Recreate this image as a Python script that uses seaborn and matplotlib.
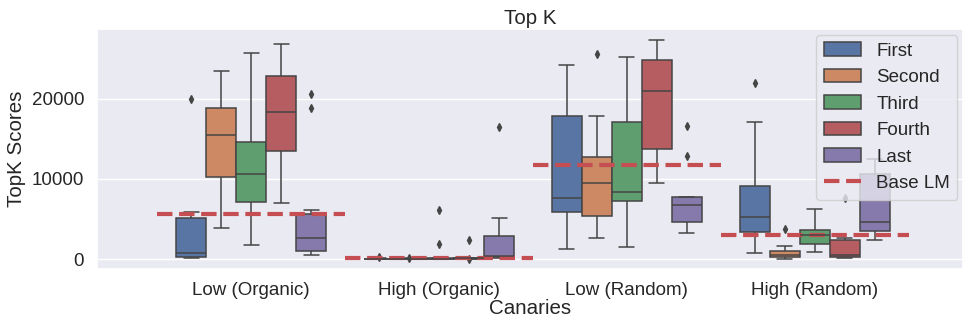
import matplotlib
matplotlib.use("Agg")
import matplotlib.pyplot as plt
import seaborn as sns
import pandas as pd

categories = ["Low (Organic)", "High (Organic)", "Low (Random)", "High (Random)"]
positions = ["First", "Second", "Third", "Fourth", "Last"]

# per category: one list of TopK scores per position (First..Last)
low_organic = [
    [75, 150, 200, 500, 750, 3000, 5100, 5900, 20000],
    [3900, 7000, 10200, 13000, 15500, 17000, 18900, 21000, 23500],
    [1700, 4000, 7100, 9000, 10650, 12500, 14550, 20000, 25700],
    [7050, 10000, 13480, 16000, 18380, 21000, 22850, 25000, 26770],
    [535, 700, 850, 1000, 1500, 2100, 2600, 3500, 4500, 5600, 6180, 18840, 20540],
]
high_organic = [
    [0, 20, 30, 40, 50, 60, 70, 80, 250],
    [10, 20, 30, 40, 50, 60, 70, 80, 180],
    [0, 30, 40, 50, 60, 70, 80, 1870, 6175],
    [0, 60, 70, 75, 80, 85, 90, 100, 2440],
    [150, 200, 250, 300, 325, 1500, 2860, 5140, 16430],
]
low_random = [
    [1280, 4000, 5890, 7000, 7670, 12000, 17840, 21000, 24230],
    [2690, 4000, 5390, 7500, 9500, 11000, 12770, 17840, 25560],
    [1530, 5000, 7300, 8000, 8420, 12000, 17130, 21000, 25190],
    [9500, 12000, 13700, 17000, 20990, 23000, 24850, 26000, 27340],
    [3310, 4000, 4640, 5500, 6760, 7200, 7760, 12820, 16630],
]
high_random = [
    [820, 2000, 3360, 4500, 5270, 7000, 9090, 17130, 21950],
    [50, 150, 250, 400, 535, 700, 950, 1620, 3770],
    [870, 1400, 1870, 2500, 2990, 3300, 3650, 5000, 6300],
    [75, 150, 200, 300, 450, 1500, 2370, 2610, 7590],
    [2400, 3000, 3560, 4000, 4600, 7000, 10580, 11500, 12520],
]
base_lm = [5640, 80, 11740, 2990]

groups = [low_organic, high_organic, low_random, high_random]
rows = []
for cat, grp in zip(categories, groups):
    for pos, vals in zip(positions, grp):
        for v in vals:
            rows.append({"Canaries": cat, "Position": pos, "TopK Scores": v})
df = pd.DataFrame(rows)

sns.set_theme(style="darkgrid")
plt.rcParams["font.family"] = ["Liberation Sans", "DejaVu Sans"]

fig = plt.figure(figsize=(9.63, 3.22), dpi=100)
ax = fig.add_axes([0.101, 0.1655, 0.899, 0.7435])

sns.boxplot(data=df, x="Canaries", y="TopK Scores", hue="Position",
            order=categories, hue_order=positions, palette="deep",
            saturation=0.75, linewidth=1.1, linecolor="#454545",
            flierprops=dict(marker="d", markerfacecolor="#454545",
                            markeredgecolor="#454545", markersize=4),
            ax=ax)

for i, v in enumerate(base_lm):
    ax.plot([i - 0.5, i + 0.5], [v, v], linestyle="--", color="#C44E52",
            linewidth=3, label="Base LM" if i == 0 else None)

ax.set_xlim(-0.82, 3.79)
ax.set_ylim(-1200, 28650)
ax.set_yticks([0, 10000, 20000])
ax.tick_params(axis="both", labelsize=13.5)
ax.set_xlabel("Canaries", fontsize=14.8, labelpad=0)
ax.set_ylabel("TopK Scores", fontsize=14.8)
ax.set_title("Top K", fontsize=14.8, pad=4)

handles, labels = ax.get_legend_handles_labels()
ax.legend(handles, labels, loc="upper right", fontsize=13.5,
          borderaxespad=0.3)

fig.savefig("out.png", dpi=100)
